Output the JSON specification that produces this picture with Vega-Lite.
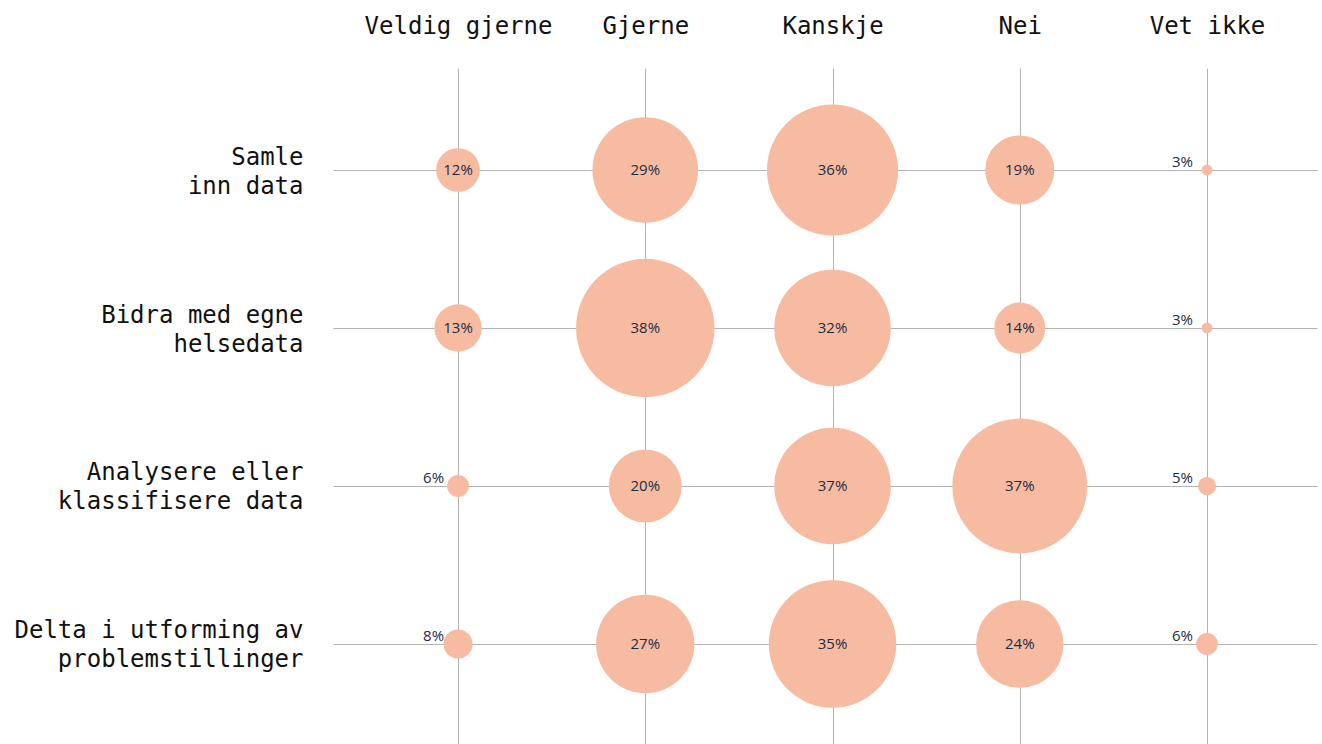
{
  "$schema": "https://vega.github.io/schema/vega-lite/v6.json",
  "autosize": {"type": "none"},
  "padding": {"left": 333, "top": 68, "right": 5, "bottom": 0},
  "width": 984,
  "height": 678,
  "background": "white",
  "config": {"view": {"stroke": null}},
  "data": {
    "values": [
      {"question": "Samle inn data", "answer": "Veldig gjerne", "pct": 12, "label": "12%"},
      {"question": "Samle inn data", "answer": "Gjerne", "pct": 29, "label": "29%"},
      {"question": "Samle inn data", "answer": "Kanskje", "pct": 36, "label": "36%"},
      {"question": "Samle inn data", "answer": "Nei", "pct": 19, "label": "19%"},
      {"question": "Samle inn data", "answer": "Vet ikke", "pct": 3, "label": "3%"},
      {"question": "Bidra med egne helsedata", "answer": "Veldig gjerne", "pct": 13, "label": "13%"},
      {"question": "Bidra med egne helsedata", "answer": "Gjerne", "pct": 38, "label": "38%"},
      {"question": "Bidra med egne helsedata", "answer": "Kanskje", "pct": 32, "label": "32%"},
      {"question": "Bidra med egne helsedata", "answer": "Nei", "pct": 14, "label": "14%"},
      {"question": "Bidra med egne helsedata", "answer": "Vet ikke", "pct": 3, "label": "3%"},
      {"question": "Analysere eller klassifisere data", "answer": "Veldig gjerne", "pct": 6, "label": "6%"},
      {"question": "Analysere eller klassifisere data", "answer": "Gjerne", "pct": 20, "label": "20%"},
      {"question": "Analysere eller klassifisere data", "answer": "Kanskje", "pct": 32, "label": "37%"},
      {"question": "Analysere eller klassifisere data", "answer": "Nei", "pct": 37, "label": "37%"},
      {"question": "Analysere eller klassifisere data", "answer": "Vet ikke", "pct": 5, "label": "5%"},
      {"question": "Delta i utforming av problemstillinger", "answer": "Veldig gjerne", "pct": 8, "label": "8%"},
      {"question": "Delta i utforming av problemstillinger", "answer": "Gjerne", "pct": 27, "label": "27%"},
      {"question": "Delta i utforming av problemstillinger", "answer": "Kanskje", "pct": 35, "label": "35%"},
      {"question": "Delta i utforming av problemstillinger", "answer": "Nei", "pct": 24, "label": "24%"},
      {"question": "Delta i utforming av problemstillinger", "answer": "Vet ikke", "pct": 6, "label": "6%"}
    ]
  },
  "encoding": {
    "x": {
      "field": "answer",
      "type": "nominal",
      "sort": ["Veldig gjerne", "Gjerne", "Kanskje", "Nei", "Vet ikke"],
      "scale": {"type": "point", "padding": 0.6276, "align": 0.532},
      "axis": {
        "orient": "top",
        "title": null,
        "domain": false,
        "ticks": false,
        "tickSize": 0,
        "grid": true,
        "gridColor": "#b3b3b3",
        "gridWidth": 1,
        "labelFont": "DejaVu Sans Mono",
        "labelFontSize": 24,
        "labelColor": "#111111",
        "labelBaseline": "alphabetic",
        "labelPadding": 35,
        "labelAngle": 0,
        "labelLimit": 400,
        "labelOverlap": false
      }
    },
    "y": {
      "field": "question",
      "type": "nominal",
      "sort": ["Samle inn data", "Bidra med egne helsedata", "Analysere eller klassifisere data", "Delta i utforming av problemstillinger"],
      "scale": {"type": "point", "padding": 0.6456, "align": 0.5},
      "axis": {
        "orient": "left",
        "title": null,
        "domain": false,
        "ticks": false,
        "tickSize": 0,
        "grid": true,
        "gridColor": "#b3b3b3",
        "gridWidth": 1,
        "labelFont": "DejaVu Sans Mono",
        "labelFontSize": 24,
        "labelColor": "#111111",
        "labelAlign": "right",
        "labelBaseline": "middle",
        "labelLineHeight": 29,
        "labelPadding": 30,
        "labelOffset": -13,
        "labelLimit": 400,
        "labelOverlap": false,
        "labelExpr": "datum.value == 'Samle inn data' ? ['Samle', 'inn data'] : datum.value == 'Bidra med egne helsedata' ? ['Bidra med egne', 'helsedata'] : datum.value == 'Analysere eller klassifisere data' ? ['Analysere eller', 'klassifisere data'] : ['Delta i utforming av', 'problemstillinger']"
      }
    }
  },
  "layer": [
    {
      "mark": {"type": "circle", "color": "#f7bba1", "opacity": 1},
      "encoding": {
        "size": {
          "field": "pct",
          "type": "quantitative",
          "scale": {"type": "pow", "exponent": 2, "domain": [0, 38], "range": [0, 19155]},
          "legend": null
        }
      }
    },
    {
      "transform": [{"filter": "datum.pct >= 10"}],
      "mark": {"type": "text", "font": "Open Sans", "fontSize": 15, "color": "#1e2b45", "align": "center", "baseline": "middle"},
      "encoding": {"text": {"field": "label", "type": "nominal"}}
    },
    {
      "transform": [{"filter": "datum.pct < 10"}],
      "mark": {"type": "text", "font": "Open Sans", "fontSize": 15, "color": "#1e2b45", "align": "right", "baseline": "alphabetic", "dx": -14, "dy": -3},
      "encoding": {"text": {"field": "label", "type": "nominal"}}
    }
  ]
}
